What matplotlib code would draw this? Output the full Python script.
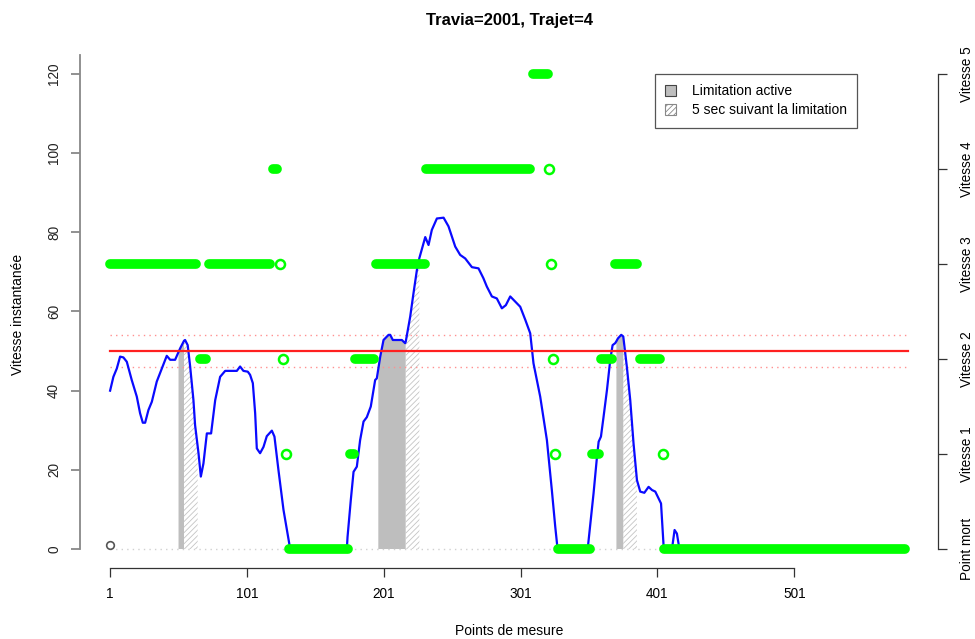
import numpy as np
import matplotlib
matplotlib.use("Agg")
import matplotlib.pyplot as plt
from matplotlib.patches import Patch

plt.rcParams['font.family'] = ['Liberation Sans', 'DejaVu Sans']
plt.rcParams['hatch.linewidth'] = 0.6

# ---- data ----
speed_x = [1, 3.4, 5.9, 8.3, 10.7, 13.2, 16.8, 20.5, 22.9, 24.9, 26.6, 29, 31.5, 35.1, 38.8,
           42.4, 44.9, 48.5, 51, 52.2, 55, 55.8, 57.7, 59.5, 61.9, 63.1, 65, 65.6, 67.3, 69.2,
           71.7, 74.8, 77.8, 81.4, 85.1, 93.6, 96, 98.4, 101.6, 103.3, 105.3, 107, 108.2, 110.6,
           113.1, 115.5, 119.2, 121.1, 124, 127.7, 132.1, 133, 153, 154.5, 156, 174, 174.5,
           176.9, 178.9, 181.3, 183.7, 186.2, 188.6, 191.5, 194.7, 195.9, 197, 198.4, 200.8,
           204.5, 205.7, 207.6, 214.2, 216.6, 217, 220.3, 222.7, 225.2, 227, 231.3, 233.7,
           236.1, 239.8, 244.7, 248.3, 253.2, 256.8, 260.5, 265.4, 270.2, 273.8, 276.3, 280,
           283.6, 287.3, 290.2, 293.4, 297, 300.7, 304.4, 308, 310.4, 315.3, 320.2, 323.8,
           326.3, 328, 350, 354.3, 356.8, 358, 359.7, 361.6, 364.1, 366.5, 368.2, 370.1, 371,
           372.1, 374.5, 376, 378.6, 381.1, 383.5, 386, 388.4, 391.4, 394.5, 397, 399.4, 401.8,
           403.6, 405.5, 406, 411.6, 413.5, 415.2, 416.9, 418, 584]
speed_y = [40.0, 43.5, 45.6, 48.6, 48.4, 47.3, 42.7, 38.5, 34.3, 31.9, 31.9, 35.1, 37.2, 42.3, 45.6,
           48.8, 47.8, 47.8, 49.8, 50.7, 52.6, 52.8, 51.5, 46.1, 37.6, 31.3, 25.8, 24.2, 18.3, 21.6,
           29.2, 29.2, 37.6, 43.5, 45.0, 45.0, 46.1, 45.0, 44.8, 44.0, 41.9, 34.3, 25.4, 24.2,
           25.8, 28.5, 29.9, 28.4, 20.0, 9.9, 1.0, 0, 0, 0.6, 0, 0, 3.0,
           12.4, 19.5, 20.8, 27.5, 32.2, 33.3, 36.0, 42.7, 43.1, 45.5, 48.6, 52.8,
           54.1, 54.1, 52.8, 52.8, 52.0, 52.3, 58.7, 64.6, 70.5, 73.5, 78.8, 76.8,
           80.6, 83.5, 83.7, 81.5, 76.4, 74.3, 73.4, 71.2, 70.9, 68.4, 66.3, 63.8,
           63.3, 60.8, 61.6, 63.8, 62.5, 61.2, 57.9, 54.5, 46.9, 38.5, 27.5, 14.9,
           5.6, 0, 0, 14.1, 23.3, 27.1, 28.4, 33.4, 40.2, 47.8, 51.5, 52.0, 52.5,
           53.2, 54.1, 53.7, 46.1, 37.6, 26.7, 17.4, 14.5, 14.2, 15.7, 14.9, 14.5, 12.8,
           11.5, 0.6, 0, 0, 4.8, 3.9, 0.3, 0, 0]

# gear runs: start index, end index, gear (plotted at 24 * gear)
gear_start = [1, 67, 73, 120, 132, 176, 180, 195, 232, 310, 328, 353, 360, 370, 388, 406]
gear_end   = [64, 71, 118, 123, 175, 179, 194, 231, 308, 321, 352, 358, 368, 386, 403, 582]
gear_value = [3, 2, 3, 4, 0, 1, 2, 3, 4, 5, 0, 1, 2, 3, 2, 0]

# isolated gear points (open circles)
open_x = [125.3, 127.2, 129.2, 321.9, 322.9, 324.6, 326.3, 404.7]
open_gear = [3, 2, 1, 4, 3, 2, 1, 1]

# limitation periods
active_start = [51, 197, 371]
active_end = [55, 217, 376]
after_start = [55, 217, 376]
after_end = [65, 227, 386]

limit = 50
limit_band = [54, 46]
n_points = 584
x_ticks = [1, 101, 201, 301, 401, 501]
y_ticks = [0, 20, 40, 60, 80, 100, 120]
gear_ticks = [0, 24, 48, 72, 96, 120]
gear_labels = ["Point mort", "Vitesse 1", "Vitesse 2", "Vitesse 3", "Vitesse 4", "Vitesse 5"]

# ---- figure ----
fig = plt.figure(figsize=(9.75, 6.39), dpi=100)
ax = fig.add_axes([80/975, 1-568/639, (938-80)/975, (568-55)/639])
ax.set_xlim(-21, 606)
ax.set_ylim(-4.8, 124.8)

sx = np.array(speed_x)
sy = np.array(speed_y)

for a, b in zip(active_start, active_end):
    m = (sx >= a) & (sx <= b)
    ax.fill_between(sx[m], 0, sy[m], facecolor='#bebebe', edgecolor='none', lw=0, zorder=1)
for a, b in zip(after_start, after_end):
    m = (sx >= a) & (sx <= b)
    ax.fill_between(sx[m], 0, sy[m], facecolor='none', edgecolor='#c4c4c4', hatch='//////',
                    lw=0, zorder=1)

ax.plot([1, n_points], [0, 0], color='#d0d0d0', lw=1, ls=(0, (1, 3)), zorder=1)
for v in limit_band:
    ax.plot([1, n_points], [v, v], color='#ff9090', lw=1, ls=(0, (1, 3)), zorder=2)

ax.plot(sx, sy, color='#0a0aff', lw=1.6, zorder=3)

for a, b, g in zip(gear_start, gear_end, gear_value):
    ax.plot([a, b], [24*g, 24*g], color='#00ff00', lw=7, solid_capstyle='round', zorder=4)
ax.plot(open_x, [24*g for g in open_gear], 'o', mfc='none', mec='#00ff00', ms=6.5, mew=1.8,
        zorder=4)
ax.plot([1], [1], 'o', mfc='none', mec='#555555', ms=5.5, mew=1.2, zorder=4)

ax.plot([1, n_points], [limit, limit], color='#ff2020', lw=1.6, zorder=5)

# axes styling
for s in ['top', 'right']:
    ax.spines[s].set_visible(False)
ax.spines['left'].set_bounds(0, 124.8)
ax.spines['left'].set_color('#888888')
ax.spines['left'].set_linewidth(1.3)
ax.spines['bottom'].set_bounds(1, 501)
ax.spines['bottom'].set_color('#333333')
ax.spines['bottom'].set_linewidth(0.9)
ax.set_xticks(x_ticks)
ax.set_xticklabels([str(t) for t in x_ticks])
ax.set_yticks(y_ticks)
ax.set_yticklabels([str(t) for t in y_ticks], rotation=90, va='center')
ax.tick_params(axis='x', length=6.5, width=0.9, color='#333333', labelsize=9.8, pad=7)
ax.tick_params(axis='y', length=6.5, width=1.3, color='#888888', labelsize=9.8, pad=7,
               labelcolor='#222222')

fig.text(509/975, 1-631/639, "Points de mesure", fontsize=10, ha='center', va='center')
fig.text(18/975, 1-314/639, "Vitesse instantanée", fontsize=10, ha='center', va='center',
         rotation=90)
fig.text(510/975, 1-20/639, "Travia=2001, Trajet=4", fontsize=12, fontweight='bold',
         ha='center', va='center')

ax2 = ax.twinx()
ax2.set_ylim(ax.get_ylim())
for s in ['top', 'left', 'bottom']:
    ax2.spines[s].set_visible(False)
ax2.spines['right'].set_bounds(0, 120)
ax2.spines['right'].set_color('#333333')
ax2.spines['right'].set_linewidth(0.9)
ax2.set_yticks(gear_ticks)
ax2.set_yticklabels(gear_labels, rotation=90, va='center')
ax2.tick_params(axis='y', length=6.5, width=0.9, color='#333333', labelsize=9.8, pad=9.5)

handles = [Patch(facecolor='#bebebe', edgecolor='#444444', lw=0.8, label='Limitation active'),
           Patch(facecolor='white', edgecolor='#888888', hatch='//////', lw=0.8,
                 label='5 sec suivant la limitation')]
leg = ax.legend(handles=handles, loc='upper left', bbox_to_anchor=(0.670, 0.963),
                fontsize=10, fancybox=False, framealpha=1, edgecolor='#555555',
                handlelength=0.8, handleheight=0.8, borderpad=0.75, labelspacing=0.35,
                handletextpad=1.1, borderaxespad=0)
leg.get_frame().set_linewidth(0.9)

fig.savefig("out.png", dpi=100)
